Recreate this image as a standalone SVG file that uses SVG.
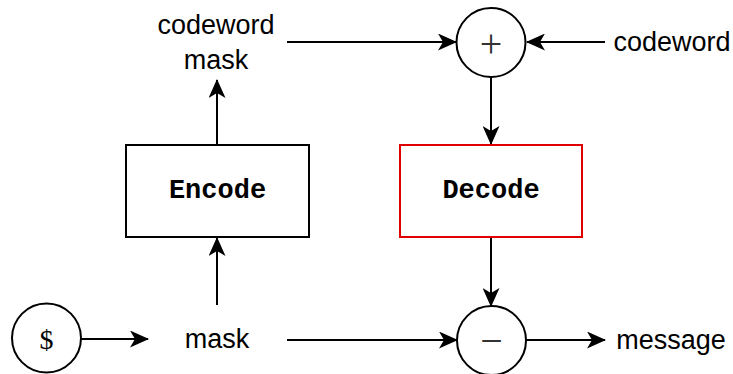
<svg xmlns="http://www.w3.org/2000/svg" width="733" height="374" viewBox="0 0 733 374">
  <style>
    .lbl { font-family: "Liberation Sans", Arial, sans-serif; font-size: 27px; fill: #000; text-anchor: middle; dominant-baseline: central; }
    .code { font-family: "Liberation Mono", "Courier New", monospace; font-size: 27px; font-weight: bold; fill: #000; text-anchor: middle; dominant-baseline: central; }
    .sym { font-family: "Liberation Serif", "Times New Roman", serif; fill: #333; text-anchor: middle; dominant-baseline: central; }
    .node { fill: #fff; stroke: #000; stroke-width: 2; }
    .edge { fill: none; stroke: #000; stroke-width: 2; }
  </style>
  <defs>
    <marker id="arrow" viewBox="0 0 19 17" refX="18" refY="8.5" markerWidth="19" markerHeight="17" markerUnits="userSpaceOnUse" orient="auto">
      <path d="M0,0 L19,8.5 L0,17 L5,8.5 Z" fill="#000"/>
    </marker>
  </defs>

  <g id="connectors">
    <line class="edge" x1="81" y1="339" x2="148" y2="339" marker-end="url(#arrow)"/>
    <line class="edge" x1="217" y1="305" x2="217" y2="238" marker-end="url(#arrow)"/>
    <line class="edge" x1="217" y1="145" x2="217" y2="80" marker-end="url(#arrow)"/>
    <line class="edge" x1="287" y1="42" x2="456" y2="42" marker-end="url(#arrow)"/>
    <line class="edge" x1="605" y1="42" x2="527" y2="42" marker-end="url(#arrow)"/>
    <line class="edge" x1="491" y1="77" x2="491" y2="144" marker-end="url(#arrow)"/>
    <line class="edge" x1="491" y1="237" x2="491" y2="306" marker-end="url(#arrow)"/>
    <line class="edge" x1="287" y1="340" x2="457" y2="340" marker-end="url(#arrow)"/>
    <line class="edge" x1="526" y1="340" x2="605" y2="340" marker-end="url(#arrow)"/>
  </g>

  <g id="random">
    <circle class="node" cx="46.5" cy="338" r="34.5"/>
    <text class="sym" x="46.5" y="339" font-size="28" style="fill:#000">$</text>
  </g>

  <g id="mask">
    <text class="lbl" x="217" y="339">mask</text>
  </g>

  <g id="encode">
    <rect class="node" x="126" y="145" width="183" height="92"/>
    <text class="code" x="217.5" y="191">Encode</text>
  </g>

  <g id="codeword-mask">
    <text class="lbl" x="216" y="25">codeword</text>
    <text class="lbl" x="216" y="60">mask</text>
  </g>

  <g id="plus">
    <circle class="node" cx="491" cy="42.5" r="34.5"/>
    <text class="sym" x="491" y="43" font-size="40">+</text>
  </g>

  <g id="codeword">
    <text class="lbl" x="672" y="42">codeword</text>
  </g>

  <g id="decode">
    <rect x="400" y="145" width="182" height="92" fill="#fff" stroke="#e00000" stroke-width="2"/>
    <text class="code" x="491" y="191">Decode</text>
  </g>

  <g id="minus">
    <circle class="node" cx="491.5" cy="340.5" r="34.5"/>
    <text class="sym" x="491.5" y="340" font-size="40">−</text>
  </g>

  <g id="message">
    <text class="lbl" x="671" y="340">message</text>
  </g>
</svg>
